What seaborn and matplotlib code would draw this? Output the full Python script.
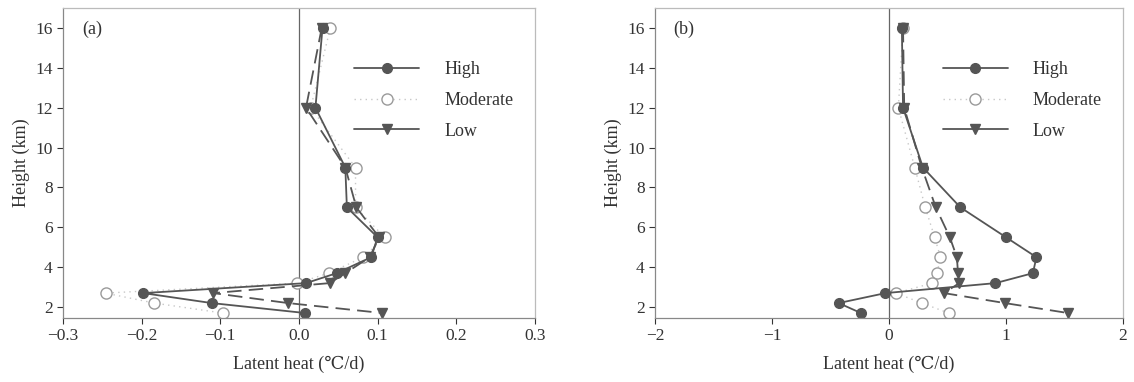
import matplotlib
matplotlib.use("Agg")
import matplotlib.pyplot as plt
from matplotlib.lines import Line2D
import seaborn as sns
import pandas as pd

heights = [16, 12, 9, 7, 5.5, 4.5, 3.7, 3.2, 2.7, 2.2, 1.7]

a_high = [0.030, 0.021, 0.059, 0.061, 0.100, 0.092, 0.048, 0.009, -0.198, -0.111, 0.008]
a_moderate = [0.040, 0.015, 0.072, 0.072, 0.109, 0.082, 0.038, -0.002, -0.246, -0.184, -0.097]
a_low = [0.029, 0.009, 0.059, 0.073, 0.102, 0.090, 0.059, 0.039, -0.109, -0.014, 0.106]

b_high = [0.11, 0.12, 0.29, 0.61, 1.00, 1.26, 1.23, 0.91, -0.03, -0.43, -0.24]
b_moderate = [0.12, 0.08, 0.22, 0.31, 0.39, 0.44, 0.41, 0.37, 0.06, 0.28, 0.51]
b_low = [0.12, 0.13, 0.28, 0.40, 0.52, 0.58, 0.59, 0.60, 0.47, 0.99, 1.53]

series_names = ["High", "Moderate", "Low"]
panel_labels = ["(a)", "(b)"]
x_ticks_a = [-0.3, -0.2, -0.1, 0.0, 0.1, 0.2, 0.3]
x_ticklabels_a = ["\u22120.3", "\u22120.2", "\u22120.1", "0.0", "0.1", "0.2", "0.3"]
x_ticks_b = [-2, -1, 0, 1, 2]
x_ticklabels_b = ["\u22122", "\u22121", "0", "1", "2"]
y_ticks = [2, 4, 6, 8, 10, 12, 14, 16]
xlabel = "Latent heat (\u2103/d)"
ylabel = "Height (km)"

sns.set_theme(style="ticks")
plt.rcParams["font.family"] = ["Liberation Serif", "DejaVu Serif"]
plt.rcParams["mathtext.fontset"] = "stix"

fig = plt.figure(figsize=(11.34, 3.82), dpi=100)
ax_a = fig.add_axes([0.0556, 0.1675, 0.416, 0.8115])
ax_b = fig.add_axes([0.5776, 0.1675, 0.4127, 0.8115])

dark = "#555555"
light = "#9a9a9a"
styles = {
    "High": dict(color=dark, marker="o", mfc=dark, mec=dark, ms=7, ls="-", lw=1.3),
    "Moderate": dict(color="#c8c8c8", marker="o", mfc="white", mec=light, ms=8, ls=(0, (1, 3)), lw=1.0),
    "Low": dict(color=dark, marker="v", mfc=dark, mec=dark, ms=7, ls=(0, (8, 4)), lw=1.3),
}

def draw(ax, data, xticks, xticklabels, xlim, label):
    rows = []
    for name, vals in zip(series_names, data):
        for h, v in zip(heights, vals):
            rows.append({"x": v, "h": h, "series": name})
    df = pd.DataFrame(rows)
    for name in ["Moderate", "Low", "High"]:
        st = styles[name]
        sub = df[df["series"] == name]
        sns.lineplot(data=sub, x="x", y="h", ax=ax, sort=False, estimator=None,
                     orient="y", color=st["color"], linestyle=st["ls"], linewidth=st["lw"],
                     marker=st["marker"], markersize=st["ms"], markerfacecolor=st["mfc"],
                     markeredgecolor=st["mec"], markeredgewidth=1.0, legend=False)
    ax.axvline(0, color="#666666", lw=0.9, zorder=0)
    ax.set_xlim(*xlim)
    ax.set_ylim(1.45, 17.0)
    ax.set_xticks(xticks)
    ax.set_xticklabels(xticklabels)
    ax.set_yticks(y_ticks)
    ax.set_xlabel(xlabel, fontsize=13, color="#333333", labelpad=8)
    ax.set_ylabel(ylabel, fontsize=13, color="#333333")
    ax.tick_params(labelsize=12.5, colors="#333333", length=4, width=0.8)
    for sp in ax.spines.values():
        sp.set_color("#888888")
        sp.set_linewidth(0.9)
    ax.spines["top"].set_color("#bbbbbb")
    ax.spines["right"].set_color("#bbbbbb")
    ax.text(0.04, 0.93, label, transform=ax.transAxes, fontsize=13, color="#333333", va="center")
    handles = [
        Line2D([], [], color=dark, marker="o", mfc=dark, mec=dark, ms=7, ls="-", lw=1.3),
        Line2D([], [], color="#c8c8c8", marker="o", mfc="white", mec=light, ms=8, ls=(0, (1, 3)), lw=1.0),
        Line2D([], [], color=dark, marker="v", mfc=dark, mec=dark, ms=7, ls="-", lw=1.3),
    ]
    ax.legend(handles, series_names, loc="upper right", bbox_to_anchor=(0.99, 0.88),
              frameon=False, fontsize=13, handlelength=3.6, labelspacing=0.75,
              handletextpad=1.4, labelcolor="#333333")

draw(ax_a, [a_high, a_moderate, a_low], x_ticks_a, x_ticklabels_a, (-0.3, 0.3), panel_labels[0])
draw(ax_b, [b_high, b_moderate, b_low], x_ticks_b, x_ticklabels_b, (-2, 2), panel_labels[1])

fig.savefig("out.png", dpi=100)
